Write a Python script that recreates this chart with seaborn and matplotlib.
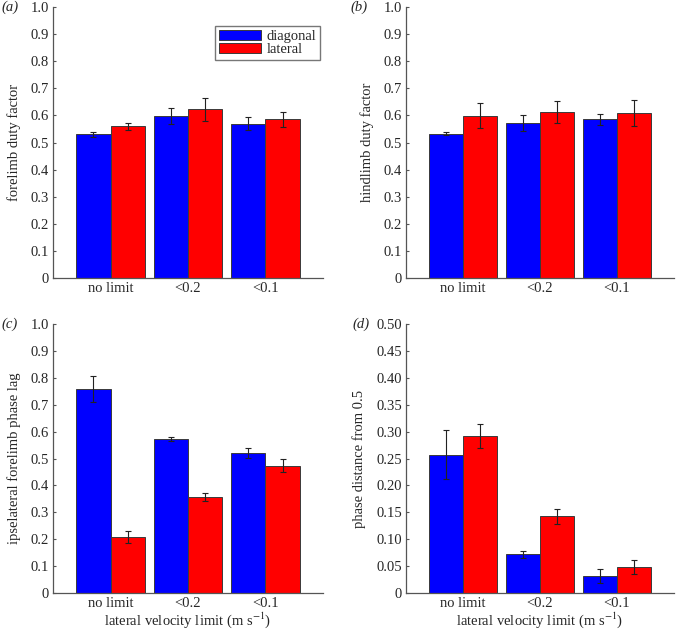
import numpy as np
import pandas as pd
import matplotlib
matplotlib.use("Agg")
import matplotlib.pyplot as plt
import seaborn as sns

categories = ["no limit", "<0.2", "<0.1"]
gaits = ["diagonal", "lateral"]

# panel (a) forelimb duty factor
a_diag = [0.531, 0.598, 0.570]
a_diag_err = [0.009, 0.031, 0.023]
a_lat = [0.560, 0.622, 0.585]
a_lat_err = [0.013, 0.041, 0.029]

# panel (b) hindlimb duty factor
b_diag = [0.533, 0.571, 0.586]
b_diag_err = [0.005, 0.029, 0.020]
b_lat = [0.599, 0.613, 0.609]
b_lat_err = [0.046, 0.040, 0.047]

# panel (c) ipselateral forelimb phase lag
c_diag = [0.758, 0.573, 0.521]
c_diag_err = [0.047, 0.007, 0.019]
c_lat = [0.209, 0.358, 0.473]
c_lat_err = [0.023, 0.015, 0.025]

# panel (d) phase distance from 0.5
d_diag = [0.257, 0.0716, 0.0315]
d_diag_err = [0.046, 0.006, 0.013]
d_lat = [0.292, 0.143, 0.049]
d_lat_err = [0.023, 0.014, 0.013]

ylabels = ["forelimb duty factor", "hindlimb duty factor",
           "ipselateral forelimb phase lag", "phase distance from 0.5"]
panel_tags = ["a", "b", "c", "d"]
xlabel = "lateral velocity limit (m s$^{-1}$)"

ticks_full = [0, 0.1, 0.2, 0.3, 0.4, 0.5, 0.6, 0.7, 0.8, 0.9, 1.0]
ticklabels_full = ["0", "0.1", "0.2", "0.3", "0.4", "0.5", "0.6", "0.7", "0.8", "0.9", "1.0"]
ticks_d = [0, 0.05, 0.10, 0.15, 0.20, 0.25, 0.30, 0.35, 0.40, 0.45, 0.50]
ticklabels_d = ["0", "0.05", "0.10", "0.15", "0.20", "0.25", "0.30", "0.35", "0.40", "0.45", "0.50"]

sns.set_style("white")
plt.rcParams["font.family"] = ["Liberation Serif", "DejaVu Serif"]
plt.rcParams["mathtext.fontset"] = "stix"
FS = 10.5

palette = {"diagonal": "#0000ff", "lateral": "#ff0000"}

fig = plt.figure(figsize=(6.77, 6.30), dpi=100)
W, H = 677, 630
boxes = [
    (53, 7, 323, 278),
    (406, 7, 674, 278),
    (53, 324, 323, 593),
    (406, 324, 674, 593),
]

panels = [
    (a_diag, a_diag_err, a_lat, a_lat_err),
    (b_diag, b_diag_err, b_lat, b_lat_err),
    (c_diag, c_diag_err, c_lat, c_lat_err),
    (d_diag, d_diag_err, d_lat, d_lat_err),
]

for i, (box, (dv, de, lv, le)) in enumerate(zip(boxes, panels)):
    x0, y0, x1, y1 = box
    ax = fig.add_axes([x0 / W, 1 - y1 / H, (x1 - x0) / W, (y1 - y0) / H])
    df = pd.DataFrame({
        "limit": categories * 2,
        "gait": ["diagonal"] * 3 + ["lateral"] * 3,
        "value": list(dv) + list(lv),
    })
    sns.barplot(data=df, x="limit", y="value", hue="gait", order=categories,
                hue_order=gaits, palette=palette, saturation=1, width=0.89,
                edgecolor="#3a3a3a", linewidth=0.7, errorbar=None,
                legend=(i == 0), ax=ax)
    errs = [de, le]
    for cont, err in zip(ax.containers, errs):
        xs = [b.get_x() + b.get_width() / 2 for b in cont]
        ys = [b.get_height() for b in cont]
        ax.errorbar(xs, ys, yerr=err, fmt="none", ecolor="#222222",
                    elinewidth=0.8, capsize=2.5, capthick=0.8, zorder=5)
    ax.set_xlim(-0.742, 2.742)
    if i == 3:
        ax.set_ylim(0, 0.5)
        ax.set_yticks(ticks_d)
        ax.set_yticklabels(ticklabels_d)
    else:
        ax.set_ylim(0, 1.0)
        ax.set_yticks(ticks_full)
        ax.set_yticklabels(ticklabels_full)
    for s in ["top", "right"]:
        ax.spines[s].set_visible(False)
    for s in ["left", "bottom"]:
        ax.spines[s].set_color("#555555")
        ax.spines[s].set_linewidth(0.9)
    ax.tick_params(axis="y", direction="in", length=2.5, width=0.8,
                   color="#555555", labelsize=FS, pad=3, left=True)
    ax.tick_params(axis="x", length=0, labelsize=FS, pad=3)
    ax.set_ylabel(ylabels[i], fontsize=FS, labelpad=7)
    if i >= 2:
        ax.set_xlabel(xlabel, fontsize=FS, labelpad=0)
    else:
        ax.set_xlabel("")
    if i == 0:
        handles, labels = ax.get_legend_handles_labels()
        ax.legend(handles, labels, loc="upper right",
                  bbox_to_anchor=(1.0, 0.94), fontsize=FS, frameon=True,
                  fancybox=False, edgecolor="#777777", framealpha=1,
                  handlelength=2.9, handleheight=0.7, borderpad=0.25,
                  labelspacing=0.0, handletextpad=0.4, borderaxespad=0.2)

# panel tags
tag_pos = [(1, 7), (350, 7), (1, 324), (352, 324)]
for tag, (tx, ty) in zip(panel_tags, tag_pos):
    fig.text(tx / W, 1 - ty / H, f"({tag})", fontsize=FS, va="center",
             ha="left", style="italic")

fig.savefig("out.png", dpi=100)
